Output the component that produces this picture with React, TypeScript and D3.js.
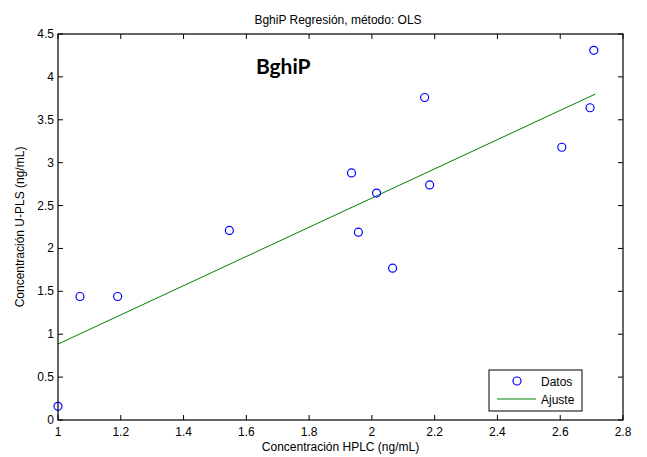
import React from "react";
import * as d3 from "d3";

const hplc = [1.0, 1.07, 1.19, 1.546, 1.935, 1.957, 2.015, 2.066, 2.168, 2.184, 2.605, 2.695, 2.707];
const upls = [0.16, 1.44, 1.44, 2.21, 2.88, 2.19, 2.645, 1.77, 3.76, 2.74, 3.18, 3.64, 4.31];
const fitX = [1.0, 2.712];
const fitY = [0.885, 3.8];
const xTicks = [1, 1.2, 1.4, 1.6, 1.8, 2, 2.2, 2.4, 2.6, 2.8];
const yTicks = [0, 0.5, 1, 1.5, 2, 2.5, 3, 3.5, 4, 4.5];
const title = "BghiP Regresión, método: OLS";
const xLabel = "Concentración HPLC (ng/mL)";
const yLabel = "Concentración U-PLS (ng/mL)";
const annotation = "BghiP";
const legendLabels = ["Datos", "Ajuste"];

const W = 647, H = 457;
const L = 58, R = 623, T = 34, B = 420;

export default function App() {
  const x = d3.scaleLinear().domain([1, 2.8]).range([L, R]);
  const y = d3.scaleLinear().domain([0, 4.5]).range([B, T]);
  const line = d3.line<number>().x((d, i) => x(fitX[i])).y((d, i) => y(fitY[i]));
  const font = "Liberation Sans, Arial, sans-serif";
  const tl = 5;
  return (
    <svg width={W} height={H} style={{ position: "absolute", left: 0, top: 0, background: "#fff" }} fontFamily={font}>
      <rect x={0} y={0} width={W} height={H} fill="#fff" />
      <text x={338} y={24} textAnchor="middle" fontSize={12}>{title}</text>
      {xTicks.map((t) => (
        <g key={"x" + t}>
          <line x1={x(t)} x2={x(t)} y1={B} y2={B - tl} stroke="#000" />
          <line x1={x(t)} x2={x(t)} y1={T} y2={T + tl} stroke="#000" />
          <text x={x(t)} y={B + 16} textAnchor="middle" fontSize={12}>{t}</text>
        </g>
      ))}
      {yTicks.map((t) => (
        <g key={"y" + t}>
          <line x1={L} x2={L + tl} y1={y(t)} y2={y(t)} stroke="#000" />
          <line x1={R} x2={R - tl} y1={y(t)} y2={y(t)} stroke="#000" />
          <text x={L - 4} y={y(t) + 4} textAnchor="end" fontSize={12}>{t}</text>
        </g>
      ))}
      <path d={line(fitX) || ""} fill="none" stroke="#008000" strokeWidth={1} />
      {hplc.map((v, i) => (
        <circle key={i} cx={x(v)} cy={y(upls[i])} r={4} fill="none" stroke="#0000ff" strokeWidth={1.2} />
      ))}
      <rect x={L} y={T} width={R - L} height={B - T} fill="none" stroke="#000" strokeWidth={1.2} />
      <text x={256} y={74} fontSize={21} fontWeight="bold" fontFamily="Lato, Open Sans, sans-serif">{annotation}</text>
      <g>
        <rect x={489} y={370} width={93} height={41} fill="#fff" stroke="#000" strokeWidth={1} />
        <circle cx={517} cy={381} r={4} fill="none" stroke="#0000ff" strokeWidth={1.2} />
        <text x={541} y={386} fontSize={12}>{legendLabels[0]}</text>
        <line x1={497} x2={536} y1={399} y2={399} stroke="#008000" />
        <text x={541} y={404} fontSize={12}>{legendLabels[1]}</text>
      </g>
      <text x={(L + R) / 2} y={451} textAnchor="middle" fontSize={12}>{xLabel}</text>
      <text transform={`translate(24,${(T + B) / 2}) rotate(-90)`} textAnchor="middle" fontSize={12}>{yLabel}</text>
    </svg>
  );
}
